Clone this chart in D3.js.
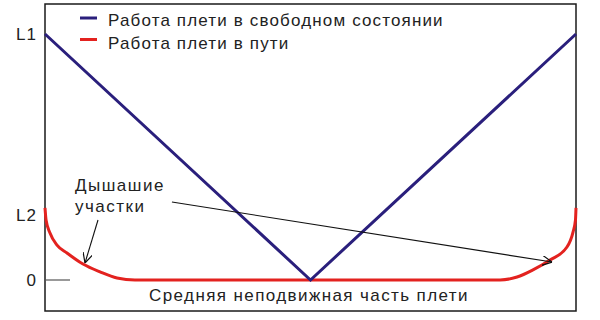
<!DOCTYPE html>
<html lang="ru">
<head>
<meta charset="UTF-8">
<title>Работа плети</title>
<style>
  *{margin:0;padding:0;}
  body{background:#fff;}
  text{font-family:"Liberation Sans",Arial,sans-serif;fill:#222;}
</style>
</head>
<body>
<div id="container"></div>
<script src="https://cdn.jsdelivr.net/npm/d3@7"></script>
<script>
// values in chart units: x 0..100 along the whip, y 0..100 (L1 = 100)
var L1 = 100, L2 = 26.4
var tickValues = [L1, L2, 0]
var tickLabels = ['L1', 'L2', '0']

var freeX = [0, 50, 100]
var freeY = [L1, 0, L1]

var pathX = [0, 0.2, 0.94, 2.26, 4.14, 7.16, 10.36, 13.56, 16.95, 85.7, 88.9, 91.9, 95.1, 98.3, 99.44, 99.9, 100]
var pathY = [29.3, 24.4, 19.1, 14.2, 11.0, 6.5, 3.3, 0.8, 0, 0, 1.2, 4.1, 8.1, 13.4, 19.5, 24.4, 29.3]

var seriesNames = ['Работа плети в свободном состоянии', 'Работа плети в пути']
var seriesColors = ['#2a1f7c', '#e3221f']

var noteLines = ['Дышашие', 'участки']
var noteArrows = [
  {x1: 9.98, y1: 24.4, x2: 7.53, y2: 6.9},
  {x1: 23.9, y1: 31.7, x2: 95.5, y2: 7.3}
]
var bottomLabel = 'Средняя неподвижная часть плети'

var W = 600, H = 320
var frame = {left: 45, top: 4, right: 576, bottom: 311}

var svg = d3.select('#container').append('svg').attr('width', W).attr('height', H)

var x = d3.scaleLinear().domain([0, 100]).range([frame.left, frame.right])
var y = d3.scaleLinear().domain([0, 100]).range([280, 34])

// frame
svg.append('rect')
  .attr('x', frame.left).attr('y', frame.top)
  .attr('width', frame.right - frame.left).attr('height', frame.bottom - frame.top)
  .attr('fill', 'none').attr('stroke', '#1a1a1a').attr('stroke-width', 1.5)

// y labels
var yAxis = d3.axisLeft(y).tickValues(tickValues).tickSize(0).tickPadding(8)
  .tickFormat(function(d, i){ return tickLabels[i] })
var ag = svg.append('g').attr('transform', 'translate(' + frame.left + ',0)').call(yAxis)
ag.select('.domain').remove()
ag.selectAll('text').attr('font-size', 17).attr('fill', '#222')
  .attr('font-family', '"Liberation Sans",Arial,sans-serif')
  .attr('letter-spacing', 1)

// short zero mark
svg.append('line')
  .attr('x1', x(0)).attr('x2', x(0) + 25)
  .attr('y1', y(0)).attr('y2', y(0))
  .attr('stroke', '#555').attr('stroke-width', 1.2)

// red: whip on the way
var redLine = d3.line().x(function(d){ return x(d[0]) }).y(function(d){ return y(d[1]) })
  .curve(d3.curveMonotoneX)
svg.append('path').datum(d3.zip(pathX, pathY))
  .attr('d', redLine).attr('fill', 'none')
  .attr('stroke', seriesColors[1]).attr('stroke-width', 3)

// blue: free whip
var blueLine = d3.line().x(function(d){ return x(d[0]) }).y(function(d){ return y(d[1]) })
svg.append('path').datum(d3.zip(freeX, freeY))
  .attr('d', blueLine).attr('fill', 'none')
  .attr('stroke', seriesColors[0]).attr('stroke-width', 3)

// legend
var lg = svg.append('g')
seriesNames.forEach(function(name, i){
  lg.append('line').attr('x1', 80).attr('x2', 97)
    .attr('y1', 18 + i * 21.5).attr('y2', 18 + i * 21.5)
    .attr('stroke', seriesColors[i]).attr('stroke-width', 3)
  lg.append('text').attr('x', 108).attr('y', 26 + i * 23.2)
    .attr('font-size', 17).attr('letter-spacing', 1.15).text(name)
})

// annotation
svg.append('g').selectAll('text').data(noteLines).enter().append('text')
  .attr('x', 75).attr('y', function(d, i){ return 190.5 + i * 21 })
  .attr('font-size', 17).attr('letter-spacing', 1.5).text(function(d){ return d })

svg.append('defs').append('marker')
  .attr('id', 'arr').attr('viewBox', '0 0 10 10').attr('refX', 10).attr('refY', 5)
  .attr('markerWidth', 10).attr('markerHeight', 10).attr('markerUnits', 'userSpaceOnUse')
  .attr('orient', 'auto')
  .append('path').attr('d', 'M0,0L10,5L0,10').attr('fill', 'none')
  .attr('stroke', '#111').attr('stroke-width', 1.2)

svg.append('g').selectAll('line').data(noteArrows).enter().append('line')
  .attr('x1', function(d){ return x(d.x1) }).attr('y1', function(d){ return y(d.y1) })
  .attr('x2', function(d){ return x(d.x2) }).attr('y2', function(d){ return y(d.y2) })
  .attr('stroke', '#111').attr('stroke-width', 1.1)
  .attr('marker-end', 'url(#arr)')

// bottom caption
svg.append('text').attr('x', 309).attr('y', 300.5).attr('text-anchor', 'middle')
  .attr('font-size', 17).attr('letter-spacing', 1.4).text(bottomLabel)
</script>
</body>
</html>
